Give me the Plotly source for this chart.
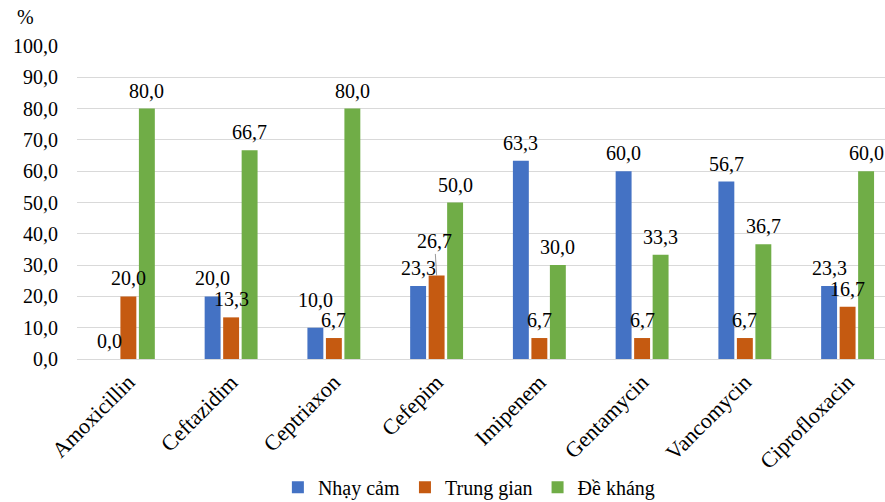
import plotly.graph_objects as go

# Antibiotic susceptibility (%) by antibiotic
antibiotics = ["Amoxicillin", "Ceftazidim", "Ceptriaxon", "Cefepim",
               "Imipenem", "Gentamycin", "Vancomycin", "Ciprofloxacin"]
nhay_cam = [0.0, 20.0, 10.0, 23.3, 63.3, 60.0, 56.7, 23.3]
trung_gian = [20.0, 13.3, 6.7, 26.7, 6.7, 6.7, 6.7, 16.7]
de_khang = [80.0, 66.7, 80.0, 50.0, 30.0, 33.3, 36.7, 60.0]
y_ticks = [0, 10, 20, 30, 40, 50, 60, 70, 80, 90, 100]

series = [
    ("Nhạy cảm", nhay_cam, "#4472C4", -0.18),
    ("Trung gian", trung_gian, "#C55A11", 0.0),
    ("Đề kháng", de_khang, "#70AD47", 0.18),
]

FONT = "Liberation Serif, Times New Roman, serif"
FS = 20
BAR_W = 0.155


def fmt(v):
    return f"{v:.1f}".replace(".", ",")


fig = go.Figure()
annotations = []
for name, vals, color, off in series:
    xs = [i + off for i in range(len(antibiotics))]
    fig.add_trace(go.Bar(
        x=xs, y=vals, name=name, width=BAR_W,
        marker=dict(color=color, line=dict(width=0)),
        hoverinfo="y",
    ))
    for i, (x, v) in enumerate(zip(xs, vals)):
        ann = dict(x=x, y=v, xref="x", yref="y", text=fmt(v),
                   showarrow=False, yanchor="middle", yshift=18,
                   font=dict(family=FONT, size=FS, color="#000000"))
        if name == "Nhạy cảm" and antibiotics[i] == "Ceptriaxon":
            ann["yshift"] = 28
        if name == "Trung gian" and antibiotics[i] == "Cefepim":
            # label lifted above its neighbour with a leader line
            ann.update(showarrow=True, arrowhead=0, arrowwidth=0.8,
                       arrowcolor="#808080", ax=-2, ay=-34, yshift=0,
                       standoff=0, startstandoff=0)
        annotations.append(ann)

annotations.append(dict(x=0, y=1, xref="paper", yref="paper", text="%",
                        showarrow=False, xshift=-52, yshift=29,
                        xanchor="center", yanchor="middle",
                        font=dict(family=FONT, size=FS, color="#000000")))

fig.update_layout(
    width=885, height=502,
    margin=dict(l=77, r=0, t=46, b=143, autoexpand=False),
    paper_bgcolor="white", plot_bgcolor="white",
    barmode="overlay",
    font=dict(family=FONT, size=FS, color="#000000"),
    annotations=annotations,
    showlegend=True,
    legend=dict(orientation="h", x=0.485, xanchor="center",
                y=-0.41, yanchor="middle",
                font=dict(family=FONT, size=FS, color="#000000"),
                itemwidth=30, traceorder="normal"),
    xaxis=dict(
        range=[-0.5, 7.364],
        tickvals=list(range(len(antibiotics))),
        ticktext=antibiotics,
        tickangle=-45,
        showgrid=False, zeroline=False, showline=False,
        ticks="", ticklabelstandoff=5,
        tickfont=dict(family=FONT, size=22, color="#000000"),
        fixedrange=True,
    ),
    yaxis=dict(
        range=[0, 100],
        tickvals=y_ticks,
        ticktext=[fmt(v) for v in y_ticks],
        showgrid=True, gridcolor="#D9D9D9", gridwidth=1,
        zeroline=True, zerolinecolor="#D9D9D9", zerolinewidth=1,
        showline=False, ticks="",
        ticklabelstandoff=18,
        tickfont=dict(family=FONT, size=FS, color="#000000"),
        fixedrange=True,
    ),
)

fig.write_html("out.html")
